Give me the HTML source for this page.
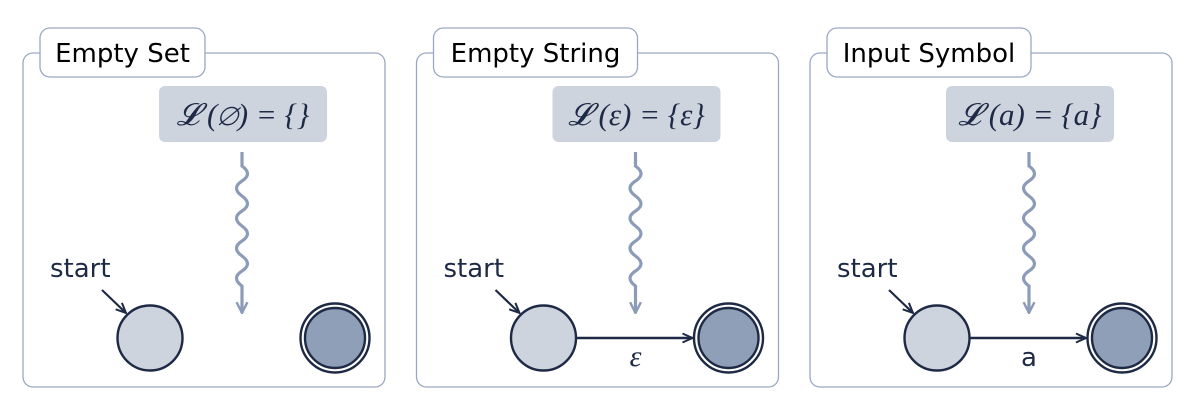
<!DOCTYPE html>
<html><head><meta charset="utf-8"><style>
body{margin:0;background:#fff}
svg{display:block}
text{font-family:"DejaVu Sans","Liberation Sans",sans-serif;fill:#1e2a45}
.m{font-family:"Liberation Serif","DejaVu Serif",serif}
</style></head><body>
<svg id="s" width="1189" height="403" viewBox="0 0 1189 403">
<defs>
<marker id="ah" viewBox="0 0 12 12" refX="11" refY="6" markerWidth="12" markerHeight="12" markerUnits="userSpaceOnUse" orient="auto"><path d="M1,1.5 L11,6 L1,10.5" fill="none" stroke="#1e2a45" stroke-width="2"/></marker>
<marker id="ahl" viewBox="0 0 12 12" refX="11" refY="6" markerWidth="13" markerHeight="13" markerUnits="userSpaceOnUse" orient="auto"><path d="M1,1 L11,6 L1,11" fill="none" stroke="#8c9cb8" stroke-width="2.2"/></marker>
</defs>
</svg>
<script>
const titles=['Empty Set','Empty String','Input Symbol'];
const formulas=[['\u{1D4DB}','(\u2205)','=','{}'],['\u{1D4DB}','(\u03B5)','=','{\u03B5}'],['\u{1D4DB}','(a)','=','{a}']];
const edgeLabels=[null,'\u03B5','a'];
const titleW=[165,204,204];
const s=document.getElementById('s');
const NS='http://www.w3.org/2000/svg';
function mk(t,a,p){const e=document.createElementNS(NS,t);for(const k in a)e.setAttribute(k,a[k]);(p||s).appendChild(e);return e;}
for(let i=0;i<3;i++){
  const o=i*393.5;
  const g=mk('g',{transform:'translate('+o+',0)'});
  
  
  const b=mk('rect',{x:23,y:53,width:362,height:334,rx:10,fill:'#fff',stroke:'#9aa8c4','stroke-width':1.3},g);
  
  
  const tb=mk('rect',{x:40,y:28,width:titleW[i],height:49,rx:10,fill:'#fff',stroke:'#9aa8c4','stroke-width':1.3},g);
  
  
  const tt=mk('text',{x:40+titleW[i]/2,y:62,'font-size':26,'text-anchor':'middle',style:'fill:#000'},g);
  tt.textContent=titles[i];
  
  
  const fb=mk('rect',{x:159,y:86,width:168,height:56,rx:6,fill:'#cdd4de'},g);
  
  
  const ft=mk('text',{x:243,y:125,'font-size':31,'text-anchor':'middle',class:'m','font-style':'italic'},g);
  ft.textContent=formulas[i].join(' ');
  
  
  let d='M242,152 L242,166';
  let y=166;
  for(let k=0;k<4;k++){d+=' Q253,'+(y+8)+' 242,'+(y+15)+' Q231,'+(y+22)+' 242,'+(y+30);y+=30;}
  d+=' L242,313';
  const w=mk('path',{d:d,fill:'none',stroke:'#8c9cb8','stroke-width':3.2,'marker-end':'url(#ahl)'},g);
  
  
  const st=mk('text',{x:50,y:277,'font-size':26},g);
  st.textContent='start';
  
  
  const sa=mk('line',{x1:102,y1:290,x2:126,y2:313,stroke:'#1e2a45','stroke-width':2.2,'marker-end':'url(#ah)'},g);
  
  
  const c1=mk('circle',{cx:150,cy:338,r:32.5,fill:'#cdd4de',stroke:'#1e2a45','stroke-width':2.4},g);
  
  
  const c2=mk('circle',{cx:335,cy:338,r:34.5,fill:'#fff',stroke:'#1e2a45','stroke-width':2.4},g);
  
  
  const c3=mk('circle',{cx:335,cy:338,r:30,fill:'#8f9fb8',stroke:'#1e2a45','stroke-width':2.4},g);
  
  
  if(edgeLabels[i]){
    const e=mk('line',{x1:183,y1:338,x2:299,y2:338,stroke:'#1e2a45','stroke-width':2.4,'marker-end':'url(#ah)'},g);
    
    
    const el=mk('text',{x:242,y:366,'font-size':i==1?30:26,'text-anchor':'middle',class:i==1?'m':'', 'font-style':i==1?'italic':'normal'},g);
    el.textContent=edgeLabels[i];
    
    
  }
}
</script>
</body></html>
